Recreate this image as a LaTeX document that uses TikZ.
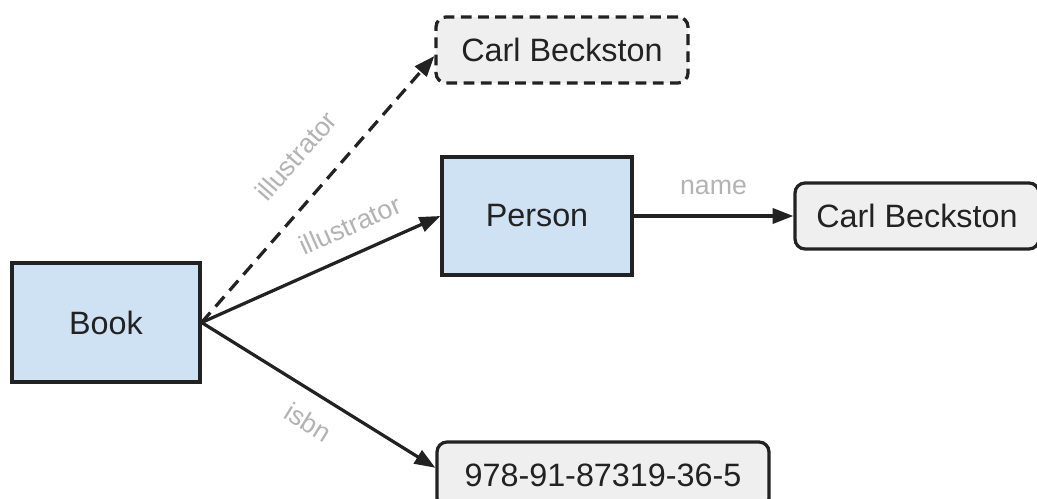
\documentclass[tikz,border=0pt]{standalone}
\usepackage{fontspec}
\setmainfont{Liberation Sans}
\usetikzlibrary{arrows.meta}
\definecolor{clsblue}{HTML}{CFE2F3}
\definecolor{valgray}{HTML}{EFEFEF}
\definecolor{edgegray}{HTML}{B3B3B3}
\definecolor{ink}{HTML}{222222}

\begin{document}
\begin{tikzpicture}[
  cls/.style={rectangle,draw=ink,fill=clsblue,line width=2.3pt,text=ink,
    font=\fontsize{23}{28}\selectfont},
  val/.style={rectangle,rounded corners=0.25cm,draw=ink,fill=valgray,line width=2.3pt,
    text=ink,minimum height=1.65cm,font=\fontsize{23}{28}\selectfont},
  rel/.style={draw=ink,line width=2.3pt,-{Triangle[length=0.52cm,width=0.38cm]}},
  lbl/.style={text=edgegray,inner sep=0pt,font=\fontsize{19}{23}\selectfont}]
\useasboundingbox (0,0) rectangle (25.925,12.475);

% classes
\node[cls,minimum width=4.7cm,minimum height=2.975cm] (book) at (2.65,4.4125) {Book};
\node[cls,minimum width=4.75cm,minimum height=2.95cm] (person) at (13.425,7.075) {Person};

% values
\node[val,dashed,dash pattern=on 0.27cm off 0.16cm,minimum width=6.3cm] (oldname) at (14.05,11.225) {Carl Beckston};
\node[val,minimum width=6.1cm] (name) at (22.925,7.075) {Carl Beckston};
\node[val,minimum width=8.3cm] (isbn) at (15.075,0.6) {978-91-87319-36-5};

% relations
\draw[rel,dash pattern=on 0.33cm off 0.2cm] (book.east) -- ([yshift=-0.15cm]oldname.west)
  node[lbl,pos=0.53,sloped,above=0.68cm] {illustrator};
\draw[rel] (book.east) -- (person.west)
  node[lbl,pos=0.67,sloped,above=0.43cm] {illustrator};
\draw[rel] (book.east) -- ([yshift=0.18cm]isbn.west)
  node[lbl,pos=0.52,sloped,below=0.43cm] {isbn};
\draw[rel] (person.east) -- (name.west)
  node[lbl,midway,above=0.48cm] {name};

\end{tikzpicture}
\end{document}
